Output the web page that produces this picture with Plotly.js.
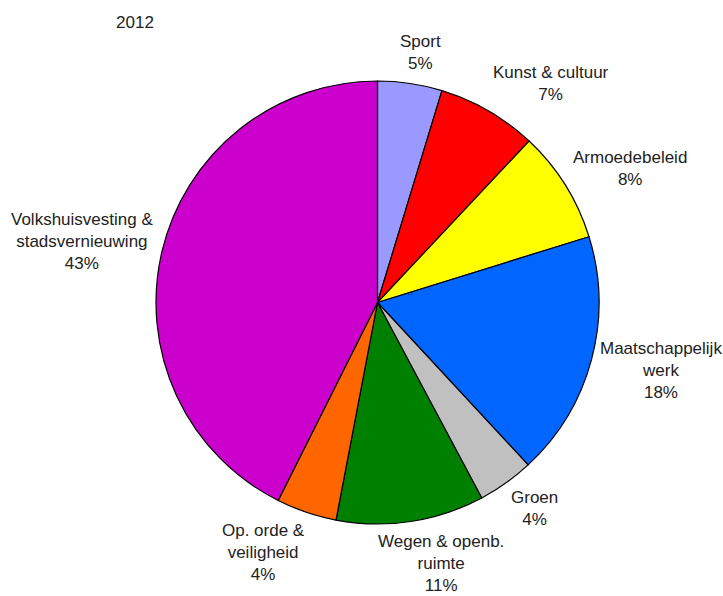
<!DOCTYPE html>
<html>
<head>
<meta charset="utf-8">
<script src="https://cdn.plot.ly/plotly-3.0.1.min.js"></script>
<style>html,body{margin:0;padding:0;background:#fff;}#chart{width:723px;height:596px;}</style>
</head>
<body>
<div id="chart"></div>
<script>
const labels = ["Sport", "Kunst & cultuur", "Armoedebeleid", "Maatschappelijk werk", "Groen", "Wegen & openb. ruimte", "Op. orde & veiligheid", "Volkshuisvesting & stadsvernieuwing"];
const labelLines = [["Sport"], ["Kunst & cultuur"], ["Armoedebeleid"], ["Maatschappelijk", "werk"], ["Groen"], ["Wegen & openb.", "ruimte"], ["Op. orde &", "veiligheid"], ["Volkshuisvesting &", "stadsvernieuwing"]];
const values = [4.7, 7.3, 8.2, 17.9, 4.1, 10.8, 4.4, 42.6];
const percents = ["5%", "7%", "8%", "18%", "4%", "11%", "4%", "43%"];
const colors = ["#9999FF", "#FF0000", "#FFFF00", "#0066FF", "#C0C0C0", "#008000", "#FF6600", "#CC00CC"];
const yearTitle = "2012";

const W = 723, H = 596;
const cx = 377.5, cy = 302.5, R = 221.5;
const FONT = "Liberation Sans, Arial, sans-serif";
const FS = 17;

const trace = {
  type: "pie",
  labels: labels,
  values: values,
  textinfo: "none",
  hoverinfo: "label+percent",
  sort: false,
  direction: "clockwise",
  rotation: 0,
  marker: {colors: colors, line: {color: "#000000", width: 1.2}},
  domain: {x: [(cx - R) / W, (cx + R) / W], y: [(H - cy - R) / H, (H - cy + R) / H]},
  automargin: false
};

// label placement computed from the slice values (mid-angle of each slice)
const ctx = document.createElement("canvas").getContext("2d");
ctx.font = FS + "px " + FONT;
const total = values.reduce((a, b) => a + b, 0);
const clamp = (t) => Math.max(-1, Math.min(1, t));
const gap = 9;
let cum = 0;
const annotations = values.map((v, i) => {
  const mid = (cum + v / 2) / total * 2 * Math.PI;
  cum += v;
  const ux = Math.sin(mid), uy = -Math.cos(mid);
  const lines = labelLines[i].concat([percents[i]]);
  const w = Math.max(...lines.map(l => ctx.measureText(l).width));
  const h = lines.length * FS * 1.3;
  const px = cx + (R + gap) * ux, py = cy + (R + gap) * uy;
  const X = px + clamp(ux * 3) * w / 2;
  const Y = py + clamp(uy) * h / 2;
  return {
    text: lines.join("<br>"),
    x: X / W, y: 1 - Y / H, xref: "paper", yref: "paper",
    xanchor: "center", yanchor: "middle", align: "center",
    showarrow: false,
    font: {family: FONT, size: FS, color: "#222222"}
  };
});
annotations.push({
  text: "``", x: 410 / W, y: 1 - 298 / H, xref: "paper", yref: "paper",
  xanchor: "center", yanchor: "middle", showarrow: false,
  font: {family: FONT, size: 10, color: "#222222"}
});

const layout = {
  width: W, height: H,
  margin: {l: 0, r: 0, t: 0, b: 0},
  paper_bgcolor: "#ffffff",
  showlegend: false,
  annotations: annotations,
  title: {text: yearTitle, x: 135 / W, xanchor: "center", y: 1 - 22 / H, yanchor: "middle",
          font: {family: FONT, size: FS, color: "#222222"}}
};

Plotly.newPlot("chart", [trace], layout, {displayModeBar: false, staticPlot: true});
</script>
</body>
</html>
